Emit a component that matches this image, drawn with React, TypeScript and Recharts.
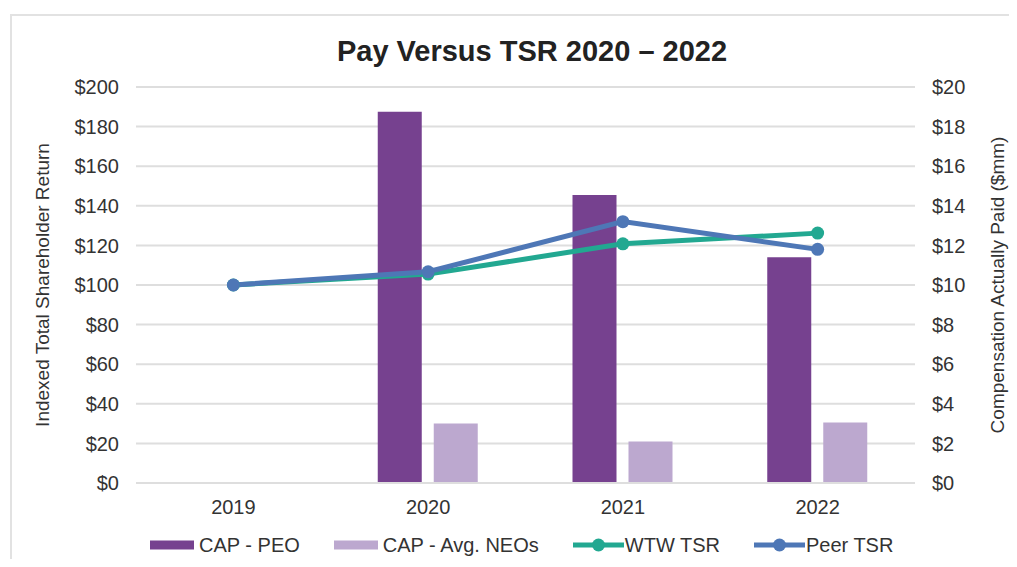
import { Bar, CartesianGrid, ComposedChart, Legend, Line, XAxis, YAxis } from "recharts"

const years = ["2019", "2020", "2021", "2022"]
// compensation actually paid, $mm (right axis)
const capPeo = [null, 18.75, 14.55, 11.4]
const capNeos = [null, 3.0, 2.1, 3.05]
// indexed TSR (left axis)
const wtwTsr = [100, 105.5, 120.8, 126.2]
const peerTsr = [100, 106.7, 132.0, 118.0]

const tsrTicks = [0, 20, 40, 60, 80, 100, 120, 140, 160, 180, 200]
const capTicks = [0, 2, 4, 6, 8, 10, 12, 14, 16, 18, 20]

const data = years.map((year, i) => ({
  year,
  capPeo: capPeo[i],
  capNeos: capNeos[i],
  wtwTsr: wtwTsr[i],
  peerTsr: peerTsr[i],
}))

const FONT = '"Liberation Sans", Arial, Helvetica, sans-serif'
const PEO = "#76418f"
const NEO = "#bca8cf"
const WTW = "#22a891"
const PEER = "#4e77b6"

const legendItems = [
  { label: "CAP - PEO", color: PEO, type: "bar" },
  { label: "CAP - Avg. NEOs", color: NEO, type: "bar" },
  { label: "WTW TSR", color: WTW, type: "line" },
  { label: "Peer TSR", color: PEER, type: "line" },
]

function renderLegend() {
  return (
    <div style={{ display: "flex", alignItems: "center", height: 24, paddingLeft: 150, fontFamily: FONT, fontSize: 20, color: "#333" }}>
      {legendItems.map((item) => (
        <div key={item.label} style={{ display: "flex", alignItems: "center", marginRight: 34 }}>
          {item.type === "bar" ? (
            <svg width={44} height={10} style={{ marginRight: 5 }}>
              <rect x={0} y={0.5} width={44} height={9} fill={item.color} />
            </svg>
          ) : (
            <svg width={51} height={14} style={{ marginRight: 1 }}>
              <line x1={0} y1={7} x2={51} y2={7} stroke={item.color} strokeWidth={5} />
              <circle cx={25.5} cy={7} r={6.5} fill={item.color} />
            </svg>
          )}
          <span>{item.label}</span>
        </div>
      ))}
    </div>
  )
}

export default function App() {
  return (
    <div style={{ position: "relative", width: 1017, height: 567, margin: -8, overflow: "hidden", background: "#fff" }}>
      <div
        style={{
          position: "absolute",
          left: 10,
          top: 14,
          width: 1020,
          height: 570,
          borderLeft: "2px solid #e2e2e2",
          borderTop: "2px solid #e2e2e2",
        }}
      />
      <div
        style={{
          position: "absolute",
          left: 0,
          top: 37,
          width: 1064,
          textAlign: "center",
          fontFamily: FONT,
          fontWeight: "bold",
          fontSize: 29,
          lineHeight: "29px",
          color: "#222",
        }}
      >
        Pay Versus TSR 2020 – 2022
      </div>
      <ComposedChart
        width={1017}
        height={567}
        data={data}
        margin={{ top: 87, right: 10, bottom: 30, left: 20 }}
        barSize={44}
        barGap={12}
        style={{ fontFamily: FONT }}
      >
        <CartesianGrid yAxisId="left" vertical={false} stroke="#dedede" strokeWidth={2} />
        <XAxis
          dataKey="year"
          height={30}
          tickLine={false}
          axisLine={{ stroke: "#dedede", strokeWidth: 2 }}
          tickMargin={11}
          tick={{ fill: "#333", fontSize: 20 }}
        />
        <YAxis
          yAxisId="left"
          width={116}
          domain={[0, 200]}
          ticks={tsrTicks}
          interval={0}
          tickLine={false}
          axisLine={false}
          tickMargin={11}
          tick={{ fill: "#333", fontSize: 20 }}
          tickFormatter={(v) => `$${v}`}
          label={{
            value: "Indexed Total Shareholder Return",
            angle: -90,
            position: "insideLeft",
            offset: 22,
            style: { textAnchor: "middle", fill: "#333", fontSize: 19 },
          }}
        />
        <YAxis
          yAxisId="right"
          orientation="right"
          width={92}
          domain={[0, 20]}
          ticks={capTicks}
          interval={0}
          tickLine={false}
          axisLine={false}
          tickMargin={11}
          tick={{ fill: "#333", fontSize: 20 }}
          tickFormatter={(v) => `$${v}`}
          label={{
            value: "Compensation Actually Paid ($mm)",
            angle: -90,
            position: "insideRight",
            offset: 10,
            style: { textAnchor: "middle", fill: "#333", fontSize: 19 },
          }}
        />
        <Legend verticalAlign="bottom" content={renderLegend} wrapperStyle={{ left: 0, bottom: 10, width: 1017 }} />
        <Bar yAxisId="right" dataKey="capPeo" name="CAP - PEO" fill={PEO} isAnimationActive={false} />
        <Bar yAxisId="right" dataKey="capNeos" name="CAP - Avg. NEOs" fill={NEO} isAnimationActive={false} />
        <Line
          yAxisId="left"
          dataKey="wtwTsr"
          name="WTW TSR"
          stroke={WTW}
          strokeWidth={5}
          dot={{ r: 6.5, fill: WTW, stroke: WTW, strokeWidth: 0 }}
          isAnimationActive={false}
        />
        <Line
          yAxisId="left"
          dataKey="peerTsr"
          name="Peer TSR"
          stroke={PEER}
          strokeWidth={5}
          dot={{ r: 6.5, fill: PEER, stroke: PEER, strokeWidth: 0 }}
          isAnimationActive={false}
        />
      </ComposedChart>
    </div>
  )
}
